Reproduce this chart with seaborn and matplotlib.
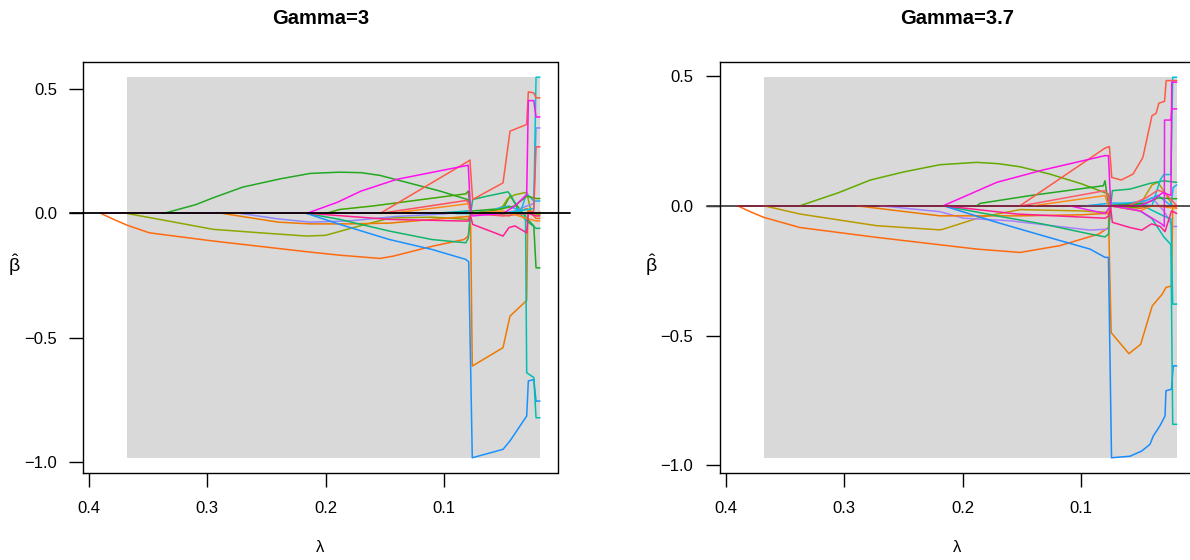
import matplotlib
matplotlib.use("Agg")
import matplotlib.pyplot as plt
import numpy as np
import pandas as pd
import seaborn as sns
from matplotlib.patches import Rectangle
from matplotlib.ticker import FixedLocator, FuncFormatter
from matplotlib.transforms import blended_transform_factory

# ---------------------------------------------------------------------------
# Coefficient paths, (lambda, beta) vertices, Gamma = 3
# ---------------------------------------------------------------------------
g3_zero = [(0.390, 0.0), (0.0188, 0.0)]
g3_orange = [(0.390, 0.0), (0.380, -0.022), (0.368, -0.047), (0.349, -0.078), (0.295, -0.111),
             (0.216, -0.154), (0.188, -0.168), (0.154, -0.181), (0.143, -0.172), (0.109, -0.131),
             (0.083, -0.105), (0.0794, -0.091), (0.0774, -0.004), (0.0757, 0.0), (0.060, 0.005),
             (0.045, -0.010), (0.030, 0.020), (0.0221, -0.020), (0.0188, -0.020)]
g3_green = [(0.337, 0.0), (0.310, 0.035), (0.295, 0.063), (0.270, 0.106), (0.2385, 0.139),
            (0.213, 0.161), (0.188, 0.166), (0.170, 0.164), (0.154, 0.153), (0.1315, 0.125),
            (0.1033, 0.090), (0.0794, 0.055), (0.0774, 0.0), (0.0757, 0.010), (0.050, 0.020),
            (0.0441, 0.070), (0.030, -0.020), (0.0240, -0.050), (0.0221, -0.219), (0.0188, -0.219)]
g3_olive = [(0.368, 0.0), (0.337, -0.027), (0.295, -0.064), (0.255, -0.078), (0.216, -0.091),
            (0.200, -0.088), (0.175, -0.055), (0.145, -0.018), (0.110, -0.015), (0.0794, -0.024),
            (0.0774, 0.0), (0.060, 0.0), (0.050, 0.030), (0.046, 0.060), (0.040, 0.075),
            (0.030, 0.085), (0.026, 0.0), (0.0188, -0.005)]
g3_magenta = [(0.216, 0.0), (0.190, 0.045), (0.170, 0.090), (0.140, 0.137), (0.0794, 0.194),
              (0.0774, 0.0), (0.0757, -0.010), (0.050, 0.0), (0.040, 0.030), (0.0300, 0.076),
              (0.0286, 0.454), (0.0240, 0.454), (0.0221, 0.388), (0.0188, 0.388)]
g3_red = [(0.154, 0.0), (0.0794, 0.210), (0.0780, 0.215), (0.0757, 0.056), (0.050, 0.123),
          (0.0441, 0.331), (0.030, 0.358), (0.0286, 0.489), (0.0240, 0.485), (0.0221, 0.465),
          (0.0188, 0.465)]
g3_blue = [(0.216, 0.0), (0.188, -0.044), (0.146, -0.105), (0.110, -0.145), (0.0814, -0.185),
           (0.0790, -0.195), (0.0760, -0.983), (0.050, -0.949), (0.0441, -0.915), (0.030, -0.815),
           (0.0286, -0.674), (0.0240, -0.668), (0.0221, -0.755), (0.0188, -0.755)]
g3_teal = [(0.110, 0.0), (0.0794, 0.010), (0.0774, 0.0), (0.050, 0.0), (0.031, 0.0),
           (0.0300, -0.641), (0.0240, -0.660), (0.0221, -0.822), (0.0188, -0.822)]
g3_cyan = [(0.090, 0.0), (0.0774, 0.0), (0.060, 0.010), (0.050, 0.0), (0.0240, 0.020),
           (0.0221, 0.548), (0.0188, 0.548)]
g3_seagreen = [(0.216, 0.0), (0.188, -0.024), (0.146, -0.071), (0.110, -0.105), (0.0814, -0.118),
               (0.0794, -0.100), (0.0774, 0.0), (0.0757, 0.056), (0.063, 0.070), (0.0458, 0.087),
               (0.043, 0.070), (0.036, 0.0), (0.030, -0.030), (0.0221, -0.060), (0.0188, -0.060)]
g3_violet = [(0.272, 0.0), (0.240, -0.022), (0.213, -0.035), (0.180, -0.030), (0.140, -0.012),
             (0.100, -0.002), (0.0794, 0.010), (0.0774, 0.0), (0.050, 0.0), (0.040, 0.010),
             (0.0300, 0.030), (0.0240, 0.040), (0.0221, 0.344), (0.0188, 0.344)]
g3_amber = [(0.287, 0.0), (0.240, -0.035), (0.213, -0.042), (0.180, -0.042), (0.146, -0.039),
            (0.110, -0.024), (0.0794, -0.012), (0.0774, -0.050), (0.0760, -0.614), (0.050, -0.540),
            (0.0441, -0.413), (0.0300, -0.350), (0.0290, 0.010), (0.0221, 0.0), (0.0188, 0.005)]
g3_pink = [(0.213, 0.0), (0.146, -0.024), (0.0794, -0.031), (0.0774, -0.010), (0.0757, -0.044),
           (0.057, -0.078), (0.050, -0.091), (0.045, -0.057), (0.040, -0.050), (0.0300, -0.078),
           (0.0286, 0.0), (0.0221, -0.010), (0.0188, -0.010)]
g3_green2 = [(0.200, 0.0), (0.188, 0.016), (0.160, 0.030), (0.0814, 0.079), (0.0794, 0.090),
             (0.0774, 0.0), (0.060, 0.010), (0.050, 0.020), (0.040, 0.030), (0.030, 0.070),
             (0.0221, 0.060), (0.0188, 0.060)]
g3_coral = [(0.154, 0.0), (0.0814, 0.052), (0.0794, 0.045), (0.0774, 0.0), (0.050, -0.010),
            (0.030, 0.0), (0.0240, 0.010), (0.0221, 0.268), (0.0188, 0.268)]
g3_tangerine = [(0.145, 0.0), (0.0794, 0.039), (0.0774, 0.0), (0.050, 0.010), (0.030, -0.020),
                (0.0221, -0.030), (0.0188, -0.030)]
g3_sky = [(0.090, 0.0), (0.0774, 0.0), (0.060, 0.0), (0.055, 0.020), (0.045, 0.030),
          (0.035, 0.010), (0.0300, 0.080), (0.0240, 0.050), (0.0188, 0.050)]

# ---------------------------------------------------------------------------
# Coefficient paths, Gamma = 3.7
# ---------------------------------------------------------------------------
g37_zero = [(0.3904, 0.0), (0.0191, 0.0)]
g37_orange = [(0.3904, 0.0), (0.380, -0.022), (0.368, -0.045), (0.3375, -0.084), (0.2727, -0.122),
              (0.1881, -0.167), (0.1515, -0.180), (0.118, -0.154), (0.085, -0.109), (0.0768, -0.084),
              (0.0749, 0.0), (0.0732, 0.0), (0.050, -0.010), (0.040, 0.0), (0.0225, 0.0),
              (0.0191, -0.010)]
g37_green = [(0.3375, 0.0), (0.305, 0.050), (0.278, 0.099), (0.250, 0.130), (0.2192, 0.158),
             (0.1881, 0.167), (0.170, 0.162), (0.1515, 0.150), (0.1265, 0.122), (0.100, 0.085),
             (0.0768, 0.045), (0.0749, 0.0), (0.060, -0.010), (0.045, 0.0), (0.0191, 0.0)]
g37_olive = [(0.368, 0.0), (0.3375, -0.032), (0.2727, -0.077), (0.2192, -0.093), (0.2163, -0.090),
             (0.1853, -0.045), (0.1515, -0.015), (0.100, -0.020), (0.0768, -0.026), (0.0749, 0.0),
             (0.050, 0.005), (0.040, 0.080), (0.035, 0.090), (0.0290, 0.050), (0.0225, 0.0),
             (0.0191, 0.0)]
g37_magenta = [(0.2163, 0.0), (0.1712, 0.090), (0.1318, 0.138), (0.0797, 0.193), (0.0768, 0.193),
               (0.0749, 0.0), (0.050, 0.0), (0.040, 0.020), (0.031, 0.050), (0.0240, 0.040),
               (0.0233, 0.476), (0.0191, 0.476)]
g37_magenta2 = [(0.110, 0.0), (0.0797, -0.030), (0.0749, 0.0), (0.050, -0.020), (0.0320, -0.070),
                (0.0296, -0.080), (0.0294, 0.330), (0.0240, 0.330), (0.0233, 0.373), (0.0191, 0.373)]
g37_red = [(0.1515, 0.0), (0.0797, 0.222), (0.0760, 0.228), (0.0740, 0.109), (0.066, 0.099),
           (0.056, 0.122), (0.0477, 0.186), (0.0400, 0.347), (0.0365, 0.356), (0.0342, 0.395),
           (0.0294, 0.402), (0.0280, 0.482), (0.0191, 0.482)]
g37_blue = [(0.2163, 0.0), (0.1712, -0.064), (0.1318, -0.116), (0.0924, -0.167), (0.0797, -0.199),
            (0.0768, -0.199), (0.0742, -0.971), (0.0586, -0.965), (0.0487, -0.945), (0.0417, -0.919),
            (0.0389, -0.887), (0.0333, -0.848), (0.0290, -0.810), (0.0282, -0.713), (0.0235, -0.707),
            (0.0221, -0.617), (0.0191, -0.617)]
g37_amber = [(0.290, 0.0), (0.2192, -0.039), (0.1515, -0.039), (0.100, -0.035), (0.0797, -0.030),
             (0.0768, -0.030), (0.0745, -0.489), (0.0595, -0.570), (0.0496, -0.534), (0.0398, -0.386),
             (0.0314, -0.341), (0.0282, -0.315), (0.0235, -0.309), (0.0225, 0.0), (0.0191, 0.0)]
g37_seagreen = [(0.2163, 0.0), (0.1712, -0.039), (0.1318, -0.071), (0.0924, -0.109), (0.0797, -0.120),
                (0.0768, -0.110), (0.0749, 0.0), (0.0735, 0.058), (0.0586, 0.064), (0.0417, 0.086),
                (0.0300, 0.096), (0.0191, 0.090)]
g37_violet = [(0.270, 0.0), (0.2192, -0.023), (0.1994, -0.048), (0.160, -0.058), (0.0924, -0.094),
              (0.0768, -0.090), (0.0749, 0.0), (0.050, 0.010), (0.040, 0.030), (0.0300, -0.020),
              (0.0225, -0.080), (0.0191, -0.080)]
g37_pink = [(0.2163, 0.0), (0.1543, -0.032), (0.0797, -0.048), (0.0768, -0.040), (0.0749, -0.010),
            (0.0735, -0.064), (0.0586, -0.084), (0.0487, -0.094), (0.0404, -0.070), (0.0330, -0.080),
            (0.0290, -0.100), (0.0235, -0.020), (0.0191, -0.030)]
g37_green2 = [(0.1881, 0.0), (0.1853, 0.009), (0.1430, 0.039), (0.0811, 0.077), (0.0797, 0.096),
              (0.0768, 0.0), (0.060, 0.005), (0.045, 0.010), (0.035, 0.030), (0.0225, 0.027),
              (0.0191, 0.027)]
g37_coral = [(0.150, 0.0), (0.0797, 0.058), (0.0768, 0.030), (0.0749, 0.0), (0.060, 0.0),
             (0.045, 0.030), (0.035, 0.060), (0.0290, 0.050), (0.0191, 0.0)]
g37_tangerine = [(0.140, 0.0), (0.0797, 0.039), (0.0768, 0.0), (0.050, -0.020), (0.040, 0.0),
                 (0.0191, -0.010)]
g37_cyan = [(0.090, 0.0), (0.0749, 0.0), (0.060, 0.010), (0.040, 0.0), (0.0330, 0.100),
            (0.0300, 0.120), (0.0240, 0.120), (0.0225, 0.495), (0.0191, 0.495)]
g37_teal = [(0.080, 0.0), (0.0749, 0.0), (0.050, -0.020), (0.040, -0.050), (0.0300, -0.120),
            (0.0240, -0.150), (0.0225, -0.842), (0.0191, -0.842)]
g37_teal2 = [(0.100, 0.0), (0.0749, 0.0), (0.050, 0.005), (0.030, -0.040), (0.0240, -0.050),
             (0.0225, -0.379), (0.0191, -0.379)]
g37_sky = [(0.095, 0.0), (0.0749, 0.010), (0.060, 0.010), (0.045, 0.020), (0.035, 0.040),
           (0.0240, 0.0), (0.0221, 0.070), (0.0191, 0.080)]

# lambda at which the non-convex region begins (shaded band)
g3_shade_start = 0.368
g37_shade_start = 0.368

x_ticks = [0.4, 0.3, 0.2, 0.1]
y_ticks = [0.5, 0.0, -0.5, -1.0]

# ---------------------------------------------------------------------------
# Panel definitions: (name, path, colour) in drawing order
# ---------------------------------------------------------------------------
panel_g3 = [
    ("zero", g3_zero, "#E020C0"),
    ("orange", g3_orange, "#FF6A10"),
    ("green", g3_green, "#22A822"),
    ("olive", g3_olive, "#8FA600"),
    ("violet", g3_violet, "#8C86FF"),
    ("amber", g3_amber, "#EE7A00"),
    ("seagreen", g3_seagreen, "#12B56A"),
    ("blue", g3_blue, "#1A92FF"),
    ("teal", g3_teal, "#00BFAE"),
    ("cyan", g3_cyan, "#00C6D4"),
    ("sky", g3_sky, "#19B2EE"),
    ("green2", g3_green2, "#3DA800"),
    ("coral", g3_coral, "#FF4F5E"),
    ("tangerine", g3_tangerine, "#FF8A1A"),
    ("red", g3_red, "#FF5A47"),
    ("pink", g3_pink, "#FF1F8F"),
    ("magenta", g3_magenta, "#FF10F0"),
]
panel_g37 = [
    ("orange", g37_orange, "#FF6A10"),
    ("green", g37_green, "#62AA00"),
    ("olive", g37_olive, "#BB9A00"),
    ("violet", g37_violet, "#A880FF"),
    ("amber", g37_amber, "#EE7A00"),
    ("seagreen", g37_seagreen, "#12B56A"),
    ("blue", g37_blue, "#1A8CFF"),
    ("teal", g37_teal, "#00BFAE"),
    ("teal2", g37_teal2, "#00C0B8"),
    ("cyan", g37_cyan, "#00C6D8"),
    ("sky", g37_sky, "#19B0F0"),
    ("green2", g37_green2, "#22A822"),
    ("coral", g37_coral, "#FF5A6A"),
    ("tangerine", g37_tangerine, "#FF8A1A"),
    ("red", g37_red, "#FF5A47"),
    ("pink", g37_pink, "#FF1F8F"),
    ("magenta2", g37_magenta2, "#F020F0"),
    ("magenta", g37_magenta, "#FF10E8"),
    ("zero", g37_zero, "#8B1A3C"),
]

sns.set_style("ticks")
plt.rcParams["font.family"] = ["Liberation Sans", "DejaVu Sans"]
plt.rcParams["mathtext.fontset"] = "custom"
plt.rcParams["mathtext.rm"] = "Liberation Sans"
plt.rcParams["mathtext.it"] = "Liberation Sans:italic"
plt.rcParams["axes.unicode_minus"] = True
plt.rcParams["text.color"] = "black"
plt.rcParams["axes.labelcolor"] = "black"
plt.rcParams["xtick.color"] = "black"
plt.rcParams["ytick.color"] = "black"

W, H = 1190, 560
fig = plt.figure(figsize=(W / 100, H / 100), dpi=100)
fig.patch.set_facecolor("white")

ax_l = fig.add_axes([83.3 / W, (H - 473) / H, 474.2 / W, 411 / H])
ax_r = fig.add_axes([719.8 / W, (H - 473) / H, 474.5 / W, 411 / H])


def fmt_minus(v, _pos):
    return f"{v:.1f}".replace("-", "\u2212")


def draw_panel(ax, panel, shade_start, title, abline_color, abline_on_top, abline_right):
    rows = []
    for name, path, _c in panel:
        for lam, b in path:
            rows.append({"var": name, "lam": lam, "beta": b})
    df = pd.DataFrame(rows)
    palette = {name: c for name, _p, c in panel}

    lam_lo, lam_hi = df["lam"].min(), df["lam"].max()
    b_lo, b_hi = df["beta"].min(), df["beta"].max()

    ax.set_facecolor("white")
    ax.add_patch(Rectangle((lam_lo, b_lo), shade_start - lam_lo, b_hi - b_lo,
                           facecolor="#D9D9D9", edgecolor="none", zorder=0))

    trans = blended_transform_factory(ax.transAxes, ax.transData)
    ax.plot([-0.028, abline_right], [0, 0], color=abline_color, lw=1.3, transform=trans,
            clip_on=False, zorder=5 if abline_on_top else 1)

    sns.lineplot(data=df, x="lam", y="beta", hue="var", units="var", estimator=None,
                 sort=False, palette=palette, hue_order=[n for n, _p, _c in panel],
                 legend=False, ax=ax, linewidth=1.1, zorder=3)

    xr = lam_hi - lam_lo
    yr = b_hi - b_lo
    ax.set_xlim(lam_hi + 0.04 * xr, lam_lo - 0.04 * xr)
    ax.set_ylim(b_lo - 0.04 * yr, b_hi + 0.04 * yr)

    ax.xaxis.set_major_locator(FixedLocator(x_ticks))
    ax.yaxis.set_major_locator(FixedLocator(y_ticks))
    ax.yaxis.set_major_formatter(FuncFormatter(fmt_minus))
    ax.tick_params(axis="both", direction="out", length=10, width=1.0, color="black",
                   labelsize=12, labelcolor="black")
    ax.tick_params(axis="x", pad=10)
    ax.tick_params(axis="y", pad=9)
    for s in ax.spines.values():
        s.set_visible(True)
        s.set_color("black")
        s.set_linewidth(1.0)

    ax.set_xlabel("λ", fontsize=12, color="black")
    ax.xaxis.set_label_coords(0.5, -0.162)
    ax.set_ylabel(r"$\hat{\mathrm{\beta}}$", fontsize=14, rotation=0, va="center",
                  ha="center", color="black")
    ax.yaxis.set_label_coords(-0.145, 0.506)
    ax.set_title(title, fontsize=14.5, fontweight="bold", pad=27, color="black")


draw_panel(ax_l, panel_g3, g3_shade_start, "Gamma=3", "black", True, 1.026)
draw_panel(ax_r, panel_g37, g37_shade_start, "Gamma=3.7", "#444444", False, 1.05)

fig.savefig("out.png", dpi=100, facecolor="white")
